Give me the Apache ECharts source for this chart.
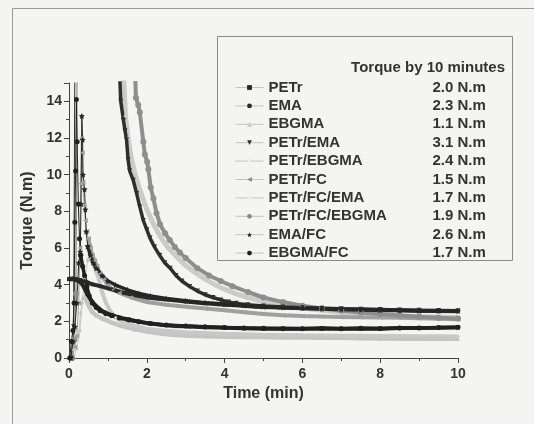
<!DOCTYPE html>
<html><head><meta charset="utf-8">
<script src="https://cdn.jsdelivr.net/npm/echarts@6/dist/echarts.min.js"></script>
<style>html,body{margin:0;padding:0;background:#f4f4f2}#c{width:534px;height:424px}</style>
</head><body><div id="c"></div><script>
// ---- data (time in min, torque in N.m) ----
const seriesNames = ['PETr','EMA','EBGMA','PETr/EMA','PETr/EBGMA','PETr/FC','PETr/FC/EMA','PETr/FC/EBGMA','EMA/FC','EBGMA/FC'];
const torqueAt10 = ['2.0 N.m','2.3 N.m','1.1 N.m','3.1 N.m','2.4 N.m','1.5 N.m','1.7 N.m','1.9 N.m','2.6 N.m','1.7 N.m'];
const yTickLabels = [0,2,4,6,8,10,12,14];
const xTickLabels = [0,2,4,6,8,10];

const PETr = [[0,4.3],[0.1,4.3],[0.2,4.25],[0.33,4.07],[0.46,3.52],[0.59,3.07],[0.76,2.7],[0.9,2.5],[1.1,2.34],[1.3,2.2],[1.53,2.1],[1.8,1.98],[2.05,1.89],[2.4,1.8],[2.73,1.74],[3.1,1.72],[3.5,1.68],[4,1.65],[4.5,1.62],[5,1.6],[5.5,1.61],[6,1.59],[6.5,1.62],[7,1.6],[7.5,1.61],[8,1.6],[8.5,1.63],[9,1.64],[9.5,1.65],[10,1.67]];
const EMA = [[0,4.32],[0.1,4.33],[0.2,4.3],[0.3,4.25],[0.4,4.2],[0.5,4.1],[0.6,4.02],[0.8,3.92],[1,3.8],[1.2,3.68],[1.4,3.56],[1.7,3.42],[2,3.3],[2.35,3.22],[2.7,3.15],[3,3.08],[3.4,3.0],[4,2.9],[4.4,2.86],[4.8,2.8],[5.4,2.76],[6,2.72],[6.5,2.69],[7,2.66],[7.5,2.64],[8,2.62],[8.5,2.6],[9,2.58],[9.5,2.56],[10,2.55]];
const EBGMA = [[0,0],[0.05,0.05],[0.12,0.5],[0.2,1.0],[0.26,1.5],[0.3,2.5],[0.36,3.3],[0.42,3.3],[0.46,3.07],[0.52,2.8],[0.59,2.52],[0.7,2.32],[0.85,2.16],[1.1,1.93],[1.36,1.74],[1.7,1.56],[2.05,1.43],[2.4,1.32],[2.73,1.25],[3.1,1.21],[3.5,1.18],[4,1.16],[4.5,1.15],[5,1.14],[5.5,1.12],[6,1.12],[6.5,1.1],[7,1.1],[7.5,1.08],[8,1.07],[8.5,1.05],[9,1.06],[9.5,1.05],[10,1.05]];
const PETr_EMA = [[0.05,0],[0.09,0.8],[0.12,1.7],[0.15,16],[0.16,'-'],[1.3,15.6],[1.33,14.0],[1.4,12.96],[1.44,12.4],[1.48,11.9],[1.52,10.8],[1.56,10.2],[1.65,9.7],[1.74,8.97],[1.82,8.24],[1.91,7.5],[2.0,7.0],[2.08,6.55],[2.2,6.05],[2.33,5.6],[2.46,5.2],[2.6,4.9],[2.75,4.5],[2.9,4.2],[3.1,3.9],[3.3,3.65],[3.5,3.45],[3.7,3.3],[3.9,3.17],[4.1,3.06],[4.3,2.98],[4.6,2.9],[5,2.83],[5.5,2.78],[6,2.74],[6.5,2.71],[7,2.68],[7.5,2.66],[8,2.64],[8.5,2.62],[9,2.6],[9.5,2.59],[10,2.58]];
const PETr_EBGMA = [[0.1,0],[0.16,1.2],[0.19,16],[0.2,'-'],[1.4,15.5],[1.45,13.2],[1.52,12.0],[1.6,10.9],[1.7,10.0],[1.8,9.3],[1.9,8.7],[2.0,8.1],[2.15,7.4],[2.3,6.8],[2.45,6.3],[2.6,5.9],[2.8,5.45],[3.0,5.05],[3.25,4.65],[3.5,4.3],[3.75,4.0],[4.0,3.75],[4.3,3.5],[4.6,3.3],[5.0,3.08],[5.5,2.88],[6,2.72],[6.5,2.6],[7,2.5],[7.5,2.42],[8,2.36],[8.5,2.31],[9,2.27],[9.5,2.24],[10,2.21]];
const PETr_FC = [[0.08,0],[0.15,0.6],[0.2,1.2],[0.25,3.0],[0.28,6.0],[0.3,9.5],[0.32,12.0],[0.34,11.2],[0.36,9.6],[0.39,8.3],[0.42,7.5],[0.46,6.9],[0.5,6.5],[0.55,6.0],[0.6,5.6],[0.66,5.3],[0.72,5.0],[0.8,4.6],[0.9,4.3],[1.0,3.95],[1.15,3.72],[1.3,3.55],[1.6,3.3],[2.0,3.05],[2.5,2.9],[3,2.8],[3.5,2.7],[4,2.6],[4.5,2.5],[5,2.4],[5.5,2.33],[6,2.29],[6.5,2.26],[7,2.24],[7.5,2.22],[8,2.21],[8.5,2.19],[9,2.17],[9.5,2.14],[10,2.12]];
const PETr_FC_EMA = [[0.12,0],[0.2,0.5],[0.28,1.5],[0.34,3.0],[0.4,4.3],[0.48,5.3],[0.55,5.5],[0.62,5.2],[0.7,4.7],[0.77,4.3],[0.85,3.6],[0.95,3.0],[1.05,2.6],[1.2,2.2],[1.4,1.95],[1.7,1.75],[2.0,1.6],[2.5,1.48],[3,1.4],[3.5,1.36],[4,1.32],[4.5,1.3],[5,1.27],[5.5,1.26],[6,1.24],[6.5,1.23],[7,1.22],[7.5,1.21],[8,1.2],[8.5,1.2],[9,1.18],[9.5,1.18],[10,1.17]];
const PETr_FC_EBGMA = [[0.08,0],[0.13,1.0],[0.18,3.5],[0.21,16],[0.22,'-'],[1.7,15.5],[1.72,14.2],[1.78,13.8],[1.82,13.4],[1.91,11.8],[1.95,11.1],[2.01,10.7],[2.04,10.3],[2.1,9.3],[2.17,8.7],[2.25,7.9],[2.34,7.3],[2.47,6.8],[2.59,6.43],[2.72,6.06],[2.85,5.75],[3.0,5.45],[3.3,4.9],[3.6,4.5],[3.9,4.2],[4.2,3.92],[4.6,3.6],[5.0,3.3],[5.5,3.05],[6,2.85],[6.5,2.7],[7,2.58],[7.5,2.48],[8,2.4],[8.5,2.32],[9,2.25],[9.5,2.2],[10,2.15]];
const EMA_FC = [[0.05,0],[0.1,0.9],[0.15,1.7],[0.2,3.0],[0.25,5.2],[0.29,5.8],[0.31,8.4],[0.33,13.2],[0.35,11.9],[0.36,10.0],[0.4,9.2],[0.42,8.1],[0.44,6.9],[0.48,6.1],[0.55,5.6],[0.62,5.2],[0.7,4.9],[0.85,4.5],[1.0,4.2],[1.2,3.98],[1.5,3.72],[1.8,3.52],[2.1,3.38],[2.5,3.25],[3,3.12],[3.5,3.02],[4,2.94],[4.5,2.86],[5,2.8],[5.5,2.76],[6,2.72],[6.5,2.68],[7,2.66],[7.5,2.63],[8,2.61],[8.5,2.59],[9,2.57],[9.5,2.56],[10,2.56]];
const EBGMA_FC = [[0.02,0],[0.06,0.9],[0.1,1.5],[0.13,3.0],[0.15,7.4],[0.17,10.2],[0.19,14.1],[0.21,11.8],[0.24,8.4],[0.27,6.5],[0.3,5.6],[0.35,5.0],[0.4,4.5],[0.46,3.9],[0.52,3.4],[0.6,3.0],[0.7,2.75],[0.8,2.58],[0.95,2.42],[1.1,2.3],[1.3,2.18],[1.55,2.07],[1.8,1.98],[2.1,1.88],[2.5,1.8],[3,1.74],[3.5,1.7],[4,1.66],[4.5,1.64],[5,1.62],[5.5,1.6],[6,1.6],[6.5,1.61],[7,1.6],[7.5,1.62],[8,1.61],[8.5,1.63],[9,1.64],[9.5,1.66],[10,1.68]];

const dataByName = {
  'PETr': PETr, 'EMA': EMA, 'EBGMA': EBGMA, 'PETr/EMA': PETr_EMA, 'PETr/EBGMA': PETr_EBGMA,
  'PETr/FC': PETr_FC, 'PETr/FC/EMA': PETr_FC_EMA, 'PETr/FC/EBGMA': PETr_FC_EBGMA,
  'EMA/FC': EMA_FC, 'EBGMA/FC': EBGMA_FC
};

// ---- styles (split: time up to which the trace is drawn as a thin rising line) ----
const STAR = 'path://M0,-10 L2.9,-4 L9.5,-3.1 L4.8,1.5 L5.9,8.1 L0,5 L-5.9,8.1 L-4.8,1.5 L-9.5,-3.1 L-2.9,-4 Z';
const styleByName = {
  'PETr':          {color:'#262626', symbol:'rect', rot:0, w:4, size:4, split:0},
  'EMA':           {color:'#2a2a2a', symbol:'circle', rot:0, w:4, size:4, split:0},
  'EBGMA':         {color:'#c4c4c4', symbol:'triangle', rot:0, w:4.5, size:4, split:0.36, legendColor:'#c8c8c8'},
  'PETr/EMA':      {color:'#2e2e2e', symbol:'triangle', rot:180, w:3.5, size:5, split:0.16},
  'PETr/EBGMA':    {color:'#cbcbcb', symbol:'diamond', rot:0, w:5, size:4, split:0.2, legendColor:'#ececea'},
  'PETr/FC':       {color:'#a0a0a0', symbol:'triangle', rot:90, w:4, size:5, split:0.5, legendColor:'#8a8a8a'},
  'PETr/FC/EMA':   {color:'#c8c8c8', symbol:'diamond', rot:0, w:4, size:4, split:0.48, legendColor:'#ececea'},
  'PETr/FC/EBGMA': {color:'#8e8e8e', symbol:'circle', rot:0, w:4, size:6, split:0.22, legendColor:'#8a8a8a'},
  'EMA/FC':        {color:'#262626', symbol:STAR, rot:0, w:3.5, size:6, split:0.48},
  'EBGMA/FC':      {color:'#202020', symbol:'circle', rot:0, w:3.5, size:5, split:0.3}
};
const drawOrder = ['EBGMA','PETr/FC/EMA','PETr/EBGMA','PETr/FC','PETr/FC/EBGMA','PETr','EMA','PETr/EMA','EMA/FC','EBGMA/FC'];

const FONT = '"Liberation Sans", Arial, sans-serif';
const TXT = '#333';

const chart = echarts.init(document.getElementById('c'), null, {renderer:'canvas'});
const series = [];
drawOrder.forEach(n => {
  const s = styleByName[n];
  const all = dataByName[n];
  const base = {
    name: n, type: 'line', symbol: s.symbol, symbolRotate: s.rot, showSymbol: true,
    connectNulls: false, clip: true, animation: false, emphasis: {disabled: true},
    itemStyle: {color: s.color}
  };
  const main = s.split > 0 ? all.filter(p => p[0] >= s.split) : all;
  series.push(Object.assign({}, base, {data: main, symbolSize: s.size,
    lineStyle: {color: s.color, width: s.w}}));
  if (s.split > 0) {
    const early = all.filter(p => p[0] <= s.split);
    series.push(Object.assign({}, base, {data: early, symbolSize: s.size,
      lineStyle: {color: s.color, width: 1}}));
  }
});

chart.setOption({
  backgroundColor: '#f4f4f2',
  animation: false,
  grid: {left: 69, right: 76, top: 83, bottom: 66},
  xAxis: {
    type: 'value', min: 0, max: 10, interval: 2,
    name: 'Time (min)', nameLocation: 'middle', nameGap: 25,
    nameTextStyle: {fontFamily: FONT, fontSize: 16, fontWeight: 'bold', color: TXT},
    axisLine: {show: true, lineStyle: {color: '#444', width: 1}},
    axisTick: {show: true, length: 5, lineStyle: {color: '#444'}},
    minorTick: {show: true, splitNumber: 2, length: 3, lineStyle: {color: '#444'}},
    splitLine: {show: false},
    axisLabel: {fontFamily: FONT, fontSize: 14, fontWeight: 'bold', color: TXT, margin: 9,
      formatter: v => xTickLabels.includes(v) ? String(v) : ''}
  },
  yAxis: {
    type: 'value', min: 0, max: 15, interval: 2,
    name: 'Torque (N.m)', nameLocation: 'middle', nameGap: 33, nameRotate: 90,
    nameTextStyle: {fontFamily: FONT, fontSize: 16, fontWeight: 'bold', color: TXT},
    axisLine: {show: true, lineStyle: {color: '#444', width: 1}},
    axisTick: {show: true, length: 5, lineStyle: {color: '#444'}},
    minorTick: {show: true, splitNumber: 2, length: 3, lineStyle: {color: '#444'}},
    splitLine: {show: false},
    axisLabel: {fontFamily: FONT, fontSize: 14, fontWeight: 'bold', color: TXT, margin: 7,
      formatter: v => yTickLabels.includes(v) ? String(v) : ''}
  },
  legend: {
    orient: 'vertical', left: 230, top: 75,
    itemWidth: 28, itemHeight: 6, itemGap: 3.4,
    selectedMode: false,
    data: seriesNames.map(n => {
      const s = styleByName[n];
      const c = s.legendColor || s.color;
      return {name: n, itemStyle: {color: c}, lineStyle: {color: '#c4c4c4', width: 1}};
    }),
    formatter: name => '{n|' + name + '}{v|' + torqueAt10[seriesNames.indexOf(name)] + '}',
    textStyle: {
      fontFamily: FONT, fontSize: 15, fontWeight: 'bold', color: TXT, lineHeight: 14,
      rich: {
        n: {width: 164, fontFamily: FONT, fontSize: 15, fontWeight: 'bold', color: TXT, lineHeight: 14},
        v: {fontFamily: FONT, fontSize: 15, fontWeight: 'bold', color: TXT, lineHeight: 14}
      }
    }
  },
  graphic: [
    {type: 'rect', z: -1, silent: true, shape: {x: 12.5, y: 8.5, width: 540, height: 440},
      style: {fill: 'none', stroke: '#9a9a9a', lineWidth: 1}},
    {type: 'rect', z: 0, silent: true, shape: {x: 217.5, y: 36.5, width: 295, height: 224},
      style: {fill: 'none', stroke: '#8a8a8a', lineWidth: 1}},
    {type: 'text', silent: true, style: {text: 'Torque by 10 minutes', x: 505, y: 68,
      align: 'right', verticalAlign: 'middle',
      font: 'bold 15px "Liberation Sans", Arial, sans-serif', fill: TXT}}
  ],
  series: series
});
</script></body></html>
